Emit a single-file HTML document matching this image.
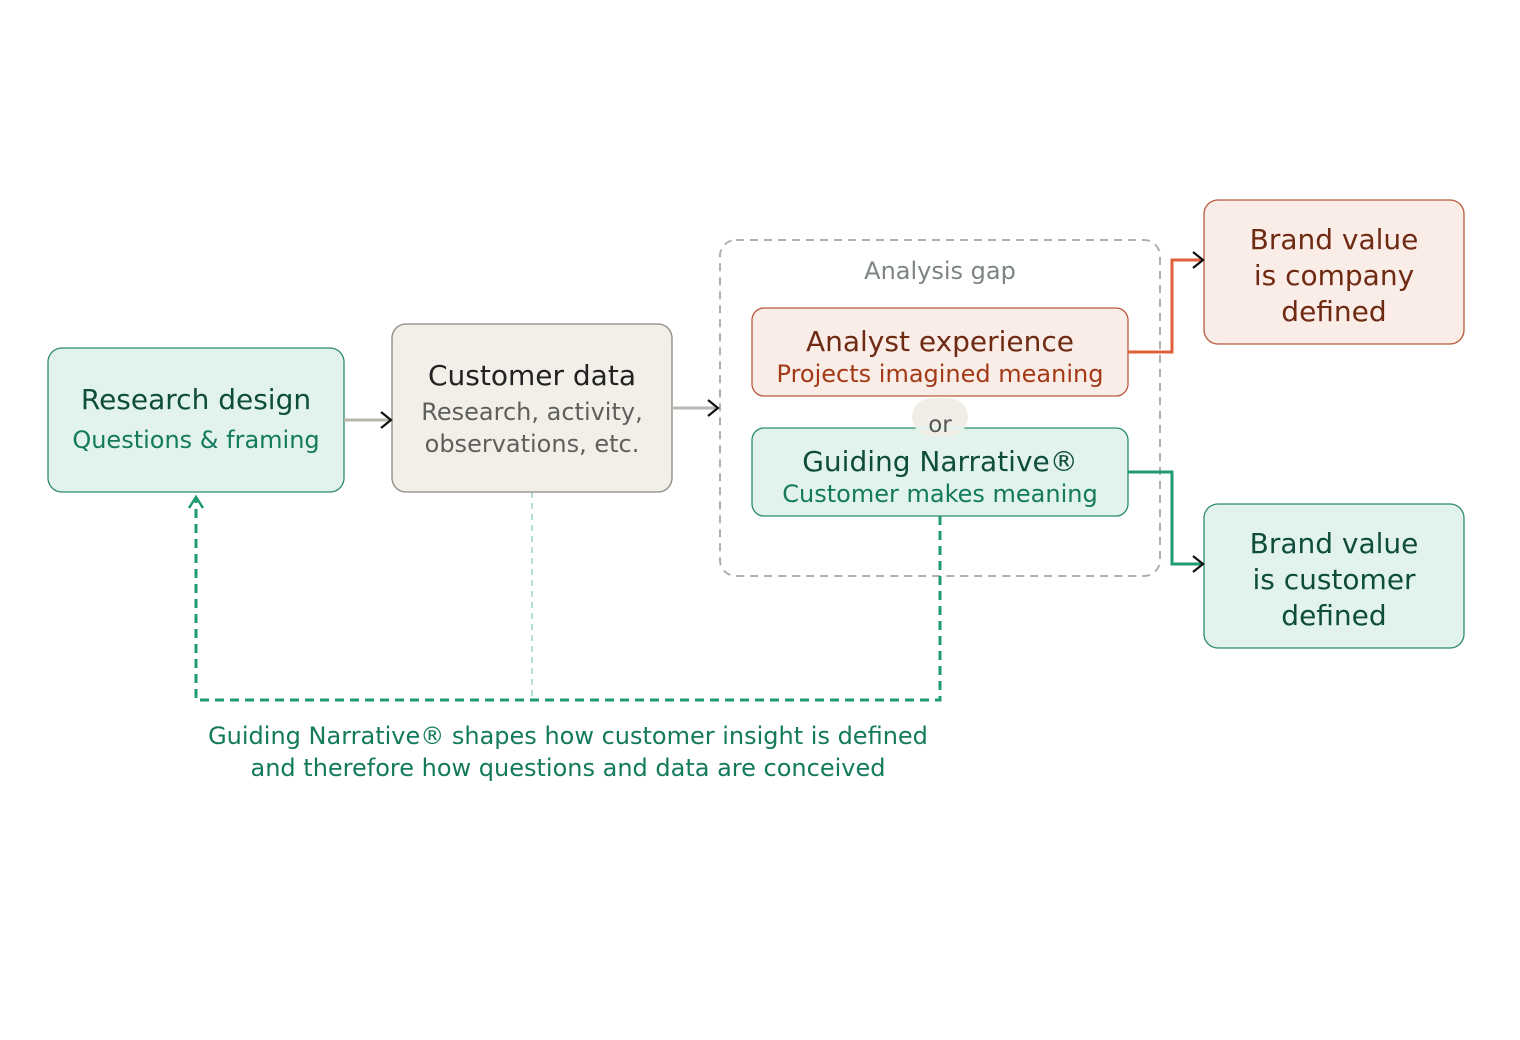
<!DOCTYPE html>
<html><head><meta charset="utf-8"><style>
html,body{margin:0;padding:0;background:#fff;}
svg{display:block;font-family:"DejaVu Sans","Liberation Sans",sans-serif;}
</style></head><body>
<svg width="1520" height="1040" viewBox="0 0 1520 1040" xmlns="http://www.w3.org/2000/svg">
<rect width="1520" height="1040" fill="#fff"/>
<rect x="720" y="240" width="440" height="336" rx="16" fill="none" stroke="#b3b0a8" stroke-width="2" stroke-dasharray="8,6"/>
<text x="940" y="279" text-anchor="middle" font-size="24" fill="#7d8580">Analysis gap</text>

<path d="M940 516 V700 H196 V498" fill="none" stroke="#1f9a72" stroke-width="3" stroke-dasharray="9,6"/>
<path d="M189 508 L196 497 L203 508" fill="none" stroke="#1f9a72" stroke-width="2.5"/>
<line x1="532" y1="492" x2="532" y2="700" stroke="#9fd6c6" stroke-width="1.5" stroke-dasharray="6,5"/>

<rect x="48" y="348" width="296" height="144" rx="14" fill="#e1f3ec" stroke="#2f8a6c" stroke-width="1.3"/>
<text x="196" y="409" text-anchor="middle" font-size="28" fill="#0e4d3c">Research design</text>
<text x="196" y="448" text-anchor="middle" font-size="24" fill="#137a5c">Questions &amp; framing</text>

<rect x="392" y="324" width="280" height="168" rx="14" fill="#f1efe8" stroke="#8a8780" stroke-width="1.3"/>
<text x="532" y="385" text-anchor="middle" font-size="28" fill="#222">Customer data</text>
<text x="532" y="420" text-anchor="middle" font-size="24" fill="#5f5f5c">Research, activity,</text>
<text x="532" y="452" text-anchor="middle" font-size="24" fill="#5f5f5c">observations, etc.</text>

<rect x="752" y="308" width="376" height="88" rx="12" fill="#faece6" stroke="#b85a3a" stroke-width="1.3"/>
<text x="940" y="351" text-anchor="middle" font-size="28" fill="#6e2a12">Analyst experience</text>
<text x="940" y="382" text-anchor="middle" font-size="24" fill="#a23a18">Projects imagined meaning</text>

<rect x="752" y="428" width="376" height="88" rx="12" fill="#e1f3ec" stroke="#2f8a6c" stroke-width="1.3"/>
<text x="940" y="471" text-anchor="middle" font-size="28" fill="#0e4d3c">Guiding Narrative®</text>
<text x="940" y="502" text-anchor="middle" font-size="24" fill="#137a5c">Customer makes meaning</text>

<rect x="912" y="398" width="56" height="38" rx="19" fill="#f0eee7"/>
<rect x="916" y="427" width="48" height="3" fill="#e1f3ec"/>
<text x="940" y="432" text-anchor="middle" font-size="23" fill="#555">or</text>

<rect x="1204" y="200" width="260" height="144" rx="14" fill="#faece6" stroke="#b85a3a" stroke-width="1.3"/>
<text x="1334" y="249" text-anchor="middle" font-size="28" fill="#6e2a12">Brand value</text>
<text x="1334" y="285" text-anchor="middle" font-size="28" fill="#6e2a12">is company</text>
<text x="1334" y="321" text-anchor="middle" font-size="28" fill="#6e2a12">defined</text>

<rect x="1204" y="504" width="260" height="144" rx="14" fill="#e1f3ec" stroke="#2f8a6c" stroke-width="1.3"/>
<text x="1334" y="553" text-anchor="middle" font-size="28" fill="#0e4d3c">Brand value</text>
<text x="1334" y="589" text-anchor="middle" font-size="28" fill="#0e4d3c">is customer</text>
<text x="1334" y="625" text-anchor="middle" font-size="28" fill="#0e4d3c">defined</text>

<line x1="344" y1="420" x2="390" y2="420" stroke="#b8b6ae" stroke-width="3"/>
<path d="M381 412 L391 420 L381 428" fill="none" stroke="#111" stroke-width="2.2"/>
<line x1="672" y1="408" x2="718" y2="408" stroke="#b8b6ae" stroke-width="3"/>
<path d="M708 400 L718 408 L708 416" fill="none" stroke="#111" stroke-width="2.2"/>

<path d="M1128 352 H1172 V260 H1202" fill="none" stroke="#e0603a" stroke-width="3"/>
<path d="M1193 252 L1203 260 L1193 268" fill="none" stroke="#111" stroke-width="2.2"/>
<path d="M1128 472 H1172 V564 H1202" fill="none" stroke="#1f9a72" stroke-width="3"/>
<path d="M1193 556 L1203 564 L1193 572" fill="none" stroke="#111" stroke-width="2.2"/>

<text x="568" y="744" text-anchor="middle" font-size="24" fill="#137a5c">Guiding Narrative® shapes how customer insight is defined</text>
<text x="568" y="776" text-anchor="middle" font-size="24" fill="#137a5c">and therefore how questions and data are conceived</text>
</svg>
</body></html>
